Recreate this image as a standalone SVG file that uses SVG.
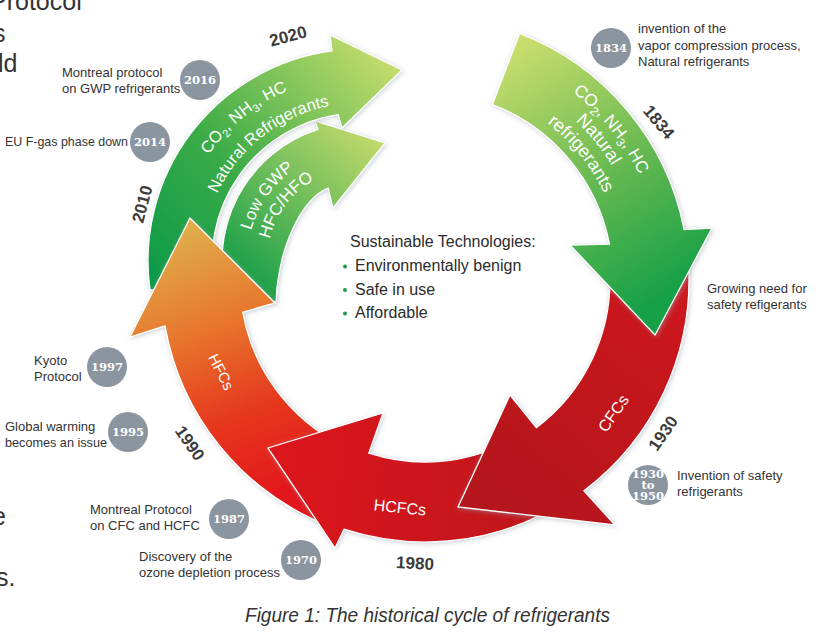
<svg xmlns="http://www.w3.org/2000/svg" width="825" height="639" viewBox="0 0 825 639">
<defs>
<linearGradient id="gA" gradientUnits="userSpaceOnUse" x1="505" y1="55" x2="660" y2="300"><stop offset="0" stop-color="#c9dd6e"/><stop offset="0.5" stop-color="#6cbb52"/><stop offset="1" stop-color="#16a047"/></linearGradient>
<linearGradient id="gB" gradientUnits="userSpaceOnUse" x1="680" y1="260" x2="500" y2="480"><stop offset="0" stop-color="#cf1a20"/><stop offset="1" stop-color="#b5151c"/></linearGradient>
<linearGradient id="gC" gradientUnits="userSpaceOnUse" x1="600" y1="480" x2="280" y2="460"><stop offset="0" stop-color="#b8161c"/><stop offset="1" stop-color="#dc121a"/></linearGradient>
<linearGradient id="gD" gradientUnits="userSpaceOnUse" x1="300" y1="500" x2="195" y2="225"><stop offset="0" stop-color="#e2121b"/><stop offset="0.35" stop-color="#e6391f"/><stop offset="0.65" stop-color="#e8752c"/><stop offset="1" stop-color="#dfad4b"/></linearGradient>
<linearGradient id="gE" gradientUnits="userSpaceOnUse" x1="160" y1="280" x2="395" y2="65"><stop offset="0" stop-color="#0f9b48"/><stop offset="0.4" stop-color="#3aab47"/><stop offset="1" stop-color="#c5dc6d"/></linearGradient>
<linearGradient id="gF" gradientUnits="userSpaceOnUse" x1="245" y1="290" x2="380" y2="140"><stop offset="0" stop-color="#139d48"/><stop offset="1" stop-color="#c3da6c"/></linearGradient>
<filter id="sh" x="-10%" y="-10%" width="120%" height="120%">
<feGaussianBlur in="SourceAlpha" stdDeviation="2.5"/>
<feOffset dx="1" dy="1" result="b"/>
<feFlood flood-color="#9aa6b2" flood-opacity="0.55"/>
<feComposite in2="b" operator="in"/>
<feMerge><feMergeNode/><feMergeNode in="SourceGraphic"/></feMerge>
</filter>
<path id="tA1" d="M 445.8,41.9 A 239 239 0 0 1 662.2,309.1"/>
<path id="tA2" d="M 444.1,61.8 A 219 219 0 0 1 642.4,306.7"/>
<path id="tA3" d="M 442.3,81.8 A 199 199 0 0 1 622.5,304.3"/>
<path id="tE1" d="M 175.7,244.9 A 185 185 0 0 1 382.6,77.4"/>
<path id="tE2" d="M 203.2,241.7 A 158 158 0 0 1 379.3,104.2"/>
<path id="tF1" d="M 248.7,280.6 A 113 113 0 0 1 340.4,149.7"/>
<path id="tF2" d="M 267.9,273.9 A 93 93 0 0 1 347.1,168.9"/>
</defs>
<style>
.arrow{stroke:#fff;stroke-width:1.3;stroke-linejoin:miter;filter:url(#sh)}
.lbl{font-family:"Liberation Sans",Arial,sans-serif;font-size:13px;fill:#333}
.frag{font-family:"Liberation Sans",Arial,sans-serif;font-size:25px;fill:#333}
.yr{font-family:"Liberation Sans",Arial,sans-serif;font-size:17px;font-weight:bold;fill:#3c3c3c;text-anchor:middle}
.on{font-family:"Liberation Sans",Arial,sans-serif;fill:#fff;text-anchor:middle}
.dot{fill:#8b959f}
.dt{font-family:"DejaVu Serif",serif;font-weight:bold;font-size:11.5px;fill:#fff;text-anchor:middle}
.ctr{font-family:"Liberation Sans",Arial,sans-serif;font-size:16px;fill:#2b2b2b}
.bul{fill:#1f9a4b}
</style>
<rect width="825" height="639" fill="#fff"/>

<g id="fragments">
<text class="frag" x="-10" y="10">Protocol</text>
<text class="frag" x="-7" y="42">s</text>
<text class="frag" x="-2" y="72">ld</text>
<text class="frag" x="-8" y="525">e</text>
<text class="frag" x="-4" y="586">s.</text>
</g>

<g id="connectors">
<g id="arrow-lowgwp">
<path class="arrow" fill="url(#gF)" d="M 228.2,302 A 138 138 0 0 1 318,129.5 L 315,121 L 385,143 L 333,208 L 328,188 C 300,200 278,250 276,302 Z"/>
</g>
<g id="arrow-natural-2020">
<path class="arrow" fill="url(#gE)" d="M 150,290 A 212 212 0 0 1 332,50.9 L 330,35 L 402,70 L 342,128 L 338,114.6 A 148 148 0 0 0 214.9,290 Z"/>
</g>
<g id="arrow-hfc">
<path class="arrow" fill="url(#gD)" d="M 326.1,524.8 A 264 264 0 0 1 165,325.8 L 130,337 L 190,218 L 275,303 L 242.8,312.1 A 185 185 0 0 0 355.7,451.5 Z"/>
</g>
<g id="arrow-hcfc">
<path class="arrow" fill="url(#gC)" d="M 548,511.3 A 262 262 0 0 1 344,529.2 L 335,548 L 268,448 L 383,413 L 368.8,453.1 A 182 182 0 0 0 510.4,440.7 Z"/>
</g>
<g id="arrow-cfc">
<path class="arrow" fill="url(#gB)" d="M 688.6,266.2 A 264 264 0 0 1 583.9,490.8 L 615,525 L 458,507 L 510,395 L 536.3,427.7 A 185 185 0 0 0 609.7,270.3 Z"/>
</g>
<g id="arrow-natural-1834">
<path class="arrow" fill="url(#gA)" d="M 519.6,33.5 A 264 264 0 0 1 684.1,229.6 L 712,228 L 655,335 L 570,245 L 609.5,244.1 A 188 188 0 0 0 492.4,104.5 Z"/>
</g>
</g>

<g id="arrow-labels">
<text class="on" font-size="17"><textPath href="#tA1" startOffset="50%">CO<tspan font-size="12" dy="4">2</tspan><tspan dy="-4">, NH</tspan><tspan font-size="12" dy="4">3</tspan><tspan dy="-4">, HC</tspan></textPath></text>
<text class="on" font-size="18"><textPath href="#tA2" startOffset="50%">Natural</textPath></text>
<text class="on" font-size="18"><textPath href="#tA3" startOffset="50%">refrigerants</textPath></text>
<text class="on" font-size="16.5"><textPath href="#tE1" startOffset="50%">CO<tspan font-size="11" dy="4">2</tspan><tspan dy="-4">, NH</tspan><tspan font-size="11" dy="4">3</tspan><tspan dy="-4">, HC</tspan></textPath></text>
<text class="on" font-size="16.5"><textPath href="#tE2" startOffset="50%">Natural Refrigerants</textPath></text>
<text class="on" font-size="17"><textPath href="#tF1" startOffset="50%">Low GWP</textPath></text>
<text class="on" font-size="17"><textPath href="#tF2" startOffset="50%">HFC/HFO</textPath></text>
<text class="on" font-size="15" transform="translate(221,372) rotate(63)" y="5">HFCs</text>
<text class="on" font-size="16" transform="translate(613,413) rotate(-55)" y="6">CFCs</text>
<text class="on" font-size="16" transform="translate(400,507) rotate(6)" y="6">HCFCs</text>
</g>

<g id="years">
<text class="yr" transform="translate(288,36) rotate(-15)" y="6">2020</text>
<text class="yr" transform="translate(142,204) rotate(-75)" y="6">2010</text>
<text class="yr" transform="translate(659,122) rotate(50)" y="6">1834</text>
<text class="yr" transform="translate(663,433) rotate(-55)" y="6">1930</text>
<text class="yr" transform="translate(415,563) rotate(3)" y="6">1980</text>
<text class="yr" transform="translate(190,443) rotate(55)" y="6">1990</text>
</g>

<g id="center-text">
<text class="ctr" x="350" y="247">Sustainable Technologies:</text>
<circle class="bul" cx="345" cy="266.5" r="2"/>
<text class="ctr" x="355" y="271">Environmentally benign</text>
<circle class="bul" cx="345" cy="290" r="2"/>
<text class="ctr" x="355" y="295">Safe in use</text>
<circle class="bul" cx="345" cy="313.5" r="2"/>
<text class="ctr" x="355" y="318">Affordable</text>
</g>

<g id="n1834"><text class="lbl" x="638" y="33">invention of the</text><text class="lbl" x="638" y="50">vapor compression process,</text><text class="lbl" x="638" y="66">Natural refrigerants</text><circle class="dot" cx="611" cy="48" r="20"/><text class="dt" x="611" y="52">1834</text></g>
<g id="n2016"><text class="lbl" x="62" y="77">Montreal protocol</text><text class="lbl" x="62" y="93">on GWP refrigerants</text><circle class="dot" cx="200" cy="80" r="20"/><text class="dt" x="200" y="84">2016</text></g>
<g id="n2014"><text class="lbl" x="5" y="146" textLength="123" lengthAdjust="spacingAndGlyphs">EU F-gas phase down</text><circle class="dot" cx="150" cy="142" r="20"/><text class="dt" x="150" y="146">2014</text></g>
<g id="n-safety"><text class="lbl" x="707" y="293">Growing need for</text><text class="lbl" x="707" y="309">safety refigerants</text></g>
<g id="n1997"><text class="lbl" x="34" y="365">Kyoto</text><text class="lbl" x="34" y="381">Protocol</text><circle class="dot" cx="107" cy="367" r="20"/><text class="dt" x="107" y="371">1997</text></g>
<g id="n1995"><text class="lbl" x="5" y="431">Global warming</text><text class="lbl" x="5" y="447" textLength="102" lengthAdjust="spacingAndGlyphs">becomes an issue</text><circle class="dot" cx="128" cy="432" r="20"/><text class="dt" x="128" y="436">1995</text></g>
<g id="n1987"><text class="lbl" x="90" y="514">Montreal Protocol</text><text class="lbl" x="90" y="530">on CFC and HCFC</text><circle class="dot" cx="229" cy="519" r="20"/><text class="dt" x="229" y="523">1987</text></g>
<g id="n1970"><text class="lbl" x="139" y="561">Discovery of the</text><text class="lbl" x="139" y="577">ozone depletion process</text><circle class="dot" cx="301" cy="560" r="20"/><text class="dt" x="301" y="564">1970</text></g>
<g id="n1930"><text class="lbl" x="677" y="480">Invention of safety</text><text class="lbl" x="677" y="496">refrigerants</text><circle class="dot" cx="648" cy="485" r="20"/><text class="dt" x="648" y="478" font-size="10.5">1930</text><text class="dt" x="648" y="489" font-size="10">to</text><text class="dt" x="648" y="500" font-size="10.5">1950</text></g>

<text id="caption" x="245" y="622" font-family="Liberation Sans, Arial, sans-serif" font-style="italic" font-size="20" fill="#333" textLength="365" lengthAdjust="spacingAndGlyphs">Figure 1: The historical cycle of refrigerants</text>
</svg>
